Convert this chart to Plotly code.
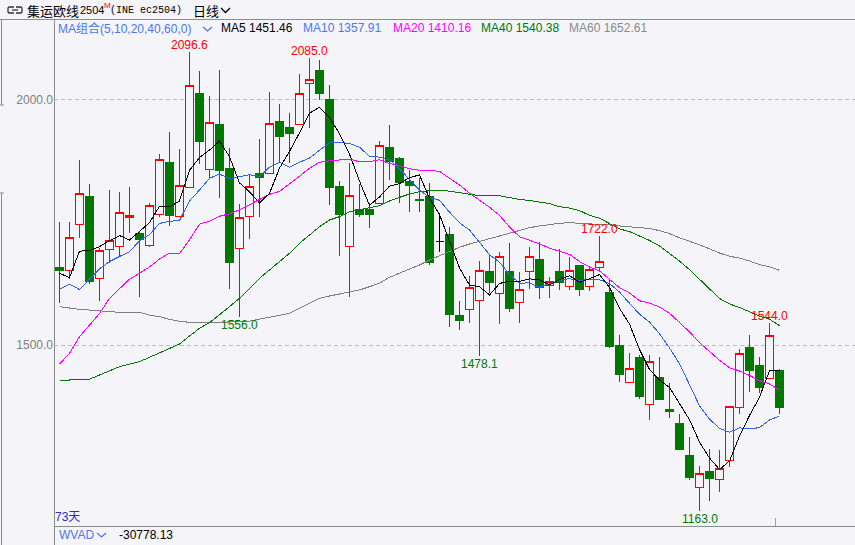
import plotly.graph_objects as go
import pandas as pd

# ---------------- data ----------------
opens = [1657.3, 1652.0, 1745.6, 1801.2, 1634.9, 1694.7, 1700.9, 1759.9, 1727.3, 1702.9,
         1766.0, 1870.4, 1761.9, 1820.9, 2010.8, 1857.5, 1949.7, 1860.2, 1696.8, 1761.9,
         1850.0, 1849.4, 1955.8, 1941.6, 1949.1, 2032.6, 2059.6, 2000.6, 1822.1, 1700.9,
         1776.1, 1776.7, 1787.5, 1902.9, 1880.5, 1833.7, 1797.1, 1802.6, 1711.0, 1725.9,
         1561.0, 1572.6, 1591.0, 1649.2, 1605.2, 1650.6, 1586.9, 1650.0, 1674.4, 1620.1,
         1648.6, 1619.5, 1660.8, 1619.5, 1658.1, 1607.8, 1500.0, 1424.1, 1475.6, 1379.3,
         1434.9, 1369.1, 1341.2, 1274.7, 1210.4, 1241.6, 1226.7, 1264.6, 1373.2, 1495.3,
         1457.3, 1431.4, 1449.1]
highs = [1750.9, 1750.9, 1876.5, 1827.0, 1696.8, 1815.4, 1811.4, 1821.5, 1730.0, 1788.0,
         1888.7, 1933.5, 1898.9, 2096.6, 2057.6, 2006.7, 2059.6, 1900.9, 1786.9, 1846.0,
         1919.2, 2014.9, 1990.4, 1972.7, 2051.5, 2085.0, 2080.0, 2029.1, 1833.7, 1869.8,
         1827.6, 1788.4, 1915.8, 1947.7, 1883.2, 1856.1, 1839.2, 1829.1, 1768.0, 1739.5,
         1589.5, 1640.4, 1670.9, 1684.6, 1689.9, 1708.2, 1648.0, 1700.0, 1709.0, 1637.8,
         1694.8, 1678.5, 1661.5, 1660.8, 1722.0, 1632.3, 1520.3, 1483.1, 1479.6, 1479.6,
         1475.6, 1422.0, 1359.6, 1313.4, 1253.8, 1287.7, 1286.3, 1375.8, 1491.2, 1520.3,
         1476.2, 1544.0, 1450.5]
lows = [1586.1, 1633.7, 1718.4, 1625.0, 1590.2, 1666.3, 1679.7, 1728.5, 1598.3, 1700.0,
        1759.9, 1742.8, 1761.0, 1820.0, 1868.3, 1838.4, 1799.8, 1614.6, 1556.0, 1715.7,
        1759.9, 1849.0, 1869.8, 1869.8, 1949.0, 1941.0, 1998.6, 1784.9, 1681.1, 1598.3,
        1759.9, 1738.7, 1787.0, 1835.8, 1789.6, 1771.3, 1771.3, 1662.8, 1689.9, 1537.2,
        1530.5, 1545.4, 1478.1, 1605.2, 1542.1, 1567.8, 1544.2, 1613.3, 1594.2, 1596.3,
        1611.9, 1611.3, 1600.3, 1609.3, 1649.2, 1493.3, 1425.3, 1423.5, 1389.5, 1347.4,
        1388.5, 1350.8, 1286.9, 1225.3, 1163.0, 1183.2, 1201.5, 1251.1, 1359.6, 1403.7,
        1401.7, 1430.5, 1359.6]
closes = [1651.2, 1719.2, 1808.7, 1628.8, 1692.7, 1713.1, 1770.0, 1764.0, 1715.1, 1784.3,
          1877.9, 1763.1, 1825.0, 2027.1, 1913.7, 1953.8, 1854.7, 1667.5, 1759.9, 1823.0,
          1841.3, 1951.2, 1923.9, 1930.0, 2012.2, 2040.7, 2012.2, 1820.1, 1765.2, 1805.2,
          1765.2, 1765.2, 1906.4, 1874.4, 1831.7, 1824.2, 1794.5, 1667.5, 1711.0, 1563.1,
          1549.5, 1617.4, 1652.6, 1626.8, 1679.7, 1573.9, 1613.3, 1679.7, 1616.6, 1628.8,
          1626.8, 1652.6, 1612.5, 1654.0, 1670.3, 1496.5, 1439.6, 1452.6, 1394.8, 1467.4,
          1389.1, 1365.0, 1288.3, 1230.0, 1238.9, 1227.9, 1249.1, 1374.4, 1483.1, 1447.7,
          1413.9, 1519.7, 1372.4]

# moving-average values before enough visible closes exist
ma5_head = [1646.0, 1637.0, 1691.0, 1692.0]
ma10_head = [1613.0, 1624.0, 1613.0, 1634.0, 1655.0, 1670.0, 1680.0, 1690.0, 1712.0]
ma20_head = [1461.0, 1483.0, 1517.0, 1541.0, 1564.0, 1595.0, 1615.0, 1634.0, 1646.0, 1659.0,
             1675.0, 1687.0, 1686.0, 1714.0, 1746.0, 1752.0, 1762.0, 1767.0, 1775.0]
ma40_head = [1428.8, 1428.8, 1430.5, 1430.5, 1439.0, 1447.0, 1455.9, 1461.3, 1466.0, 1475.0,
             1484.3, 1493.3, 1502.0, 1518.3, 1534.0, 1545.4, 1561.0, 1578.0, 1595.0, 1615.4,
             1635.7, 1652.6, 1669.5, 1686.6, 1707.0, 1723.9, 1740.7, 1754.4, 1761.1, 1771.3,
             1774.7, 1779.5, 1783.5, 1793.0, 1800.5, 1807.3, 1812.0, 1814.0, 1815.4]
ma60_head = [1578.0, 1574.7, 1572.6, 1571.2, 1569.2, 1567.1, 1566.5, 1566.5, 1566.5, 1561.0,
             1557.6, 1552.3, 1548.2, 1546.2, 1546.2, 1546.8, 1546.8, 1546.8, 1547.0, 1548.8,
             1552.3, 1556.4, 1560.4, 1564.5, 1574.7, 1585.0, 1595.0, 1599.7, 1603.8, 1608.5,
             1612.0, 1618.7, 1625.6, 1637.8, 1645.9, 1654.0, 1662.8, 1673.0, 1681.7, 1689.9,
             1698.8, 1705.5, 1710.2, 1716.3, 1721.8, 1727.3, 1734.0, 1738.7, 1742.2, 1745.6,
             1747.7, 1748.9, 1747.7, 1746.2, 1746.2, 1744.2, 1742.2, 1740.7, 1738.1]

ma_periods = [5, 10, 20, 40, 60]
ma_heads = [ma5_head, ma10_head, ma20_head, ma40_head, ma60_head]
ma_colors = ['#000000', '#2f63e6', '#ff00ff', '#007800', '#808080']
ma_legend = ['MA5 1451.46', 'MA10 1357.91', 'MA20 1410.16', 'MA40 1540.38', 'MA60 1652.61']
ma_legend_colors = ['#000000', '#4a78e8', '#ff00ff', '#007800', '#8a8a8a']

# labelled extremes: (candle index, text, kind)
marks = [(13, '2096.6', 'high'), (25, '2085.0', 'high'), (54, '1722.0', 'high'),
         (71, '1544.0', 'high'), (18, '1556.0', 'low'), (42, '1478.1', 'low'),
         (64, '1163.0', 'low')]

y_ticks = [1500, 2000]
y_ticktext = ['1500.0', '2000.0']

# ---------------- styling ----------------
BG = '#f4f4f9'
RED = '#ff0000'
GREEN = '#007800'
FONT = "Tahoma, 'Liberation Sans', Arial, 'Noto Sans CJK SC', sans-serif"
CJK = "'Noto Sans CJK SC', 'Liberation Sans', sans-serif"
MONO = "'Liberation Mono', 'DejaVu Sans Mono', monospace"

W, H = 855, 545
ML, MT, MB = 54, 36, 19
PW, PH = W - ML, H - MT - MB


def X(px):
    return (px - ML) / PW


def Y(py):
    return (H - MB - py) / PH


def moving_average(values, n, head):
    s = pd.Series(values).rolling(n).mean().round(2).tolist()
    return head + s[len(head):]


idx = list(range(len(closes)))
normal = [i for i in idx if opens[i] != closes[i]]
doji = [i for i in idx if opens[i] == closes[i]]

fig = go.Figure()
fig.add_trace(go.Candlestick(
    x=normal,
    open=[opens[i] for i in normal], high=[highs[i] for i in normal],
    low=[lows[i] for i in normal], close=[closes[i] for i in normal],
    increasing=dict(line=dict(color=RED, width=1), fillcolor=BG),
    decreasing=dict(line=dict(color=GREEN, width=1), fillcolor=GREEN),
    whiskerwidth=0, hoverinfo='skip'))
fig.add_trace(go.Candlestick(
    x=doji,
    open=[opens[i] for i in doji], high=[highs[i] for i in doji],
    low=[lows[i] for i in doji], close=[closes[i] for i in doji],
    increasing=dict(line=dict(color='#000000', width=1), fillcolor='#000000'),
    decreasing=dict(line=dict(color='#000000', width=1), fillcolor='#000000'),
    whiskerwidth=0, hoverinfo='skip'))

for n, head, col in reversed(list(zip(ma_periods, ma_heads, ma_colors))):
    fig.add_trace(go.Scatter(x=idx, y=moving_average(closes, n, head), mode='lines',
                             line=dict(color=col, width=1), hoverinfo='skip'))

annotations = []
for i, t, kind in marks:
    if kind == 'high':
        annotations.append(dict(x=i, y=highs[i], xref='x', yref='y', text=t, showarrow=False,
                                yanchor='bottom', xanchor='center', yshift=-2,
                                font=dict(color='#ff0000', size=12, family=FONT)))
    else:
        annotations.append(dict(x=i, y=lows[i], xref='x', yref='y', text=t, showarrow=False,
                                yanchor='top', xanchor='center', yshift=1,
                                font=dict(color='#007800', size=12, family=FONT)))


def txt(px, py, text, color, size=12, family=FONT):
    annotations.append(dict(x=X(px), y=Y(py), xref='paper', yref='paper', text=text,
                            showarrow=False, xanchor='left', yanchor='middle',
                            font=dict(color=color, size=size, family=family)))


# header
txt(25, 10.5, '集运欧线', '#000000', 13, CJK)
txt(78, 10.5, '2504', '#000000', 11, FONT)
txt(102, 6, 'M', '#ff0000', 8, FONT)
txt(108, 10.5, '(INE ec2504)', '#000000', 10, MONO)
txt(191, 10.5, '日线', '#000000', 13, CJK)
# MA legend row
txt(56, 28, 'MA组合(5,10,20,40,60,0)', '#4a78e8', 12, FONT)
leg_x = [219, 301, 391, 479, 567]
for lx, t, c in zip(leg_x, ma_legend, ma_legend_colors):
    txt(lx, 28, t, c, 12, FONT)
# bottom
txt(53, 517, '73天', '#2b2bc8', 12, FONT)
txt(57, 535, 'WVAD', '#4a78e8', 12, FONT)
txt(117, 535, '-30778.13', '#000000', 12, FONT)

shapes = []


def hline(py, x0, x1, color='#8c8c8c'):
    shapes.append(dict(type='line', xref='paper', yref='paper', x0=X(x0), x1=X(x1),
                       y0=Y(py), y1=Y(py), line=dict(color=color, width=1)))


def vline(px, y0, y1, color='#8c8c8c'):
    shapes.append(dict(type='line', xref='paper', yref='paper', x0=X(px), x1=X(px),
                       y0=Y(y0), y1=Y(y1), line=dict(color=color, width=1)))


def path(points, color, width=1.2):
    d = 'M ' + ' L '.join(f'{X(a):.5f},{Y(b):.5f}' for a, b in points)
    shapes.append(dict(type='path', xref='paper', yref='paper', path=d,
                       line=dict(color=color, width=width)))


hline(19.5, 0, W)
vline(54.5, 19.5, H)
hline(526.5, 54, W)
vline(775.5, 518, 526, '#a0a0a0')
vline(1.5, 19.5, 105)
vline(1.5, 193, H)
hline(105, 0, 4)
hline(193, 0, 4)
# link icon
path([(14, 7), (9, 7), (8, 8), (8, 12), (9, 13), (14, 13)], '#333333', 1.3)
path([(16, 7), (21, 7), (22, 8), (22, 12), (21, 13), (16, 13)], '#333333', 1.3)
path([(12, 10), (18, 10)], '#333333', 1.3)
# chevrons
path([(221, 8), (225.5, 12.5), (230, 8)], '#000000', 1.3)
path([(203, 27), (207.5, 31), (212, 27)], '#4a78e8', 1.3)
path([(97, 533), (101.5, 537), (106, 533)], '#4a78e8', 1.3)

fig.update_layout(
    width=W, height=H,
    margin=dict(l=ML, r=0, t=MT, b=MB, pad=0),
    paper_bgcolor=BG, plot_bgcolor=BG,
    showlegend=False, hovermode=False,
    boxgap=0.2, boxgroupgap=0,
    xaxis=dict(range=[-0.55, 79.55], showgrid=False, zeroline=False, showticklabels=False,
               ticks='', showline=False, rangeslider=dict(visible=False), fixedrange=True),
    yaxis=dict(range=[1131.7, 2128.8], tickvals=y_ticks, ticktext=y_ticktext,
               showgrid=True, gridcolor='#bdbdbd', griddash='4px,3px', gridwidth=1,
               zeroline=False, showline=False, ticks='',
               tickfont=dict(color='#808080', size=12, family=FONT), fixedrange=True),
    annotations=annotations, shapes=shapes,
)

post = (
    "document.body.style.margin='0';"
    "document.body.style.background='" + BG + "';"
    "document.querySelectorAll('.boxlayer path, .scatterlayer path')"
    ".forEach(function(p){p.style.shapeRendering='crispEdges';});"
)
fig.write_html('out.html', config={'displayModeBar': False}, post_script=post)
